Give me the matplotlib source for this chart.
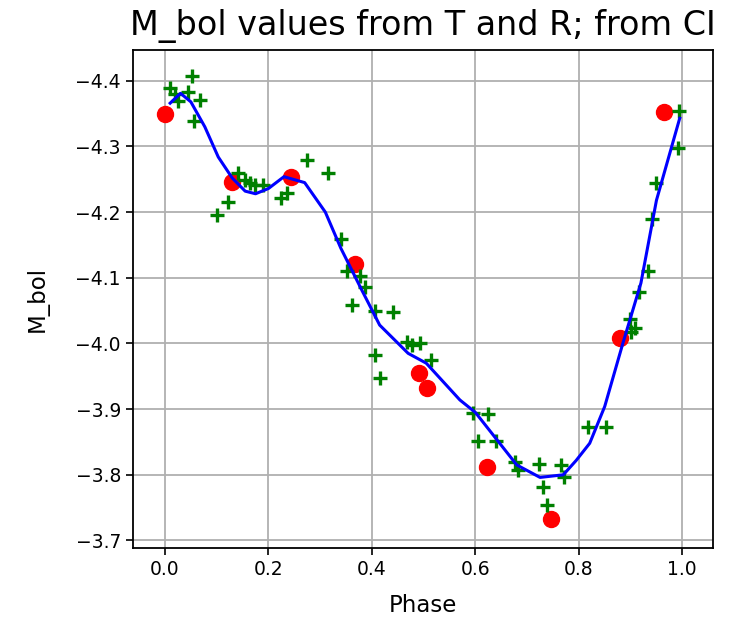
import matplotlib
matplotlib.use("Agg")
import matplotlib.pyplot as plt

# M_bol from T and R (red), from CI (green), smoothed curve (blue)
phase_tr = [0.0, 0.129, 0.243, 0.367, 0.491, 0.506, 0.622, 0.747, 0.879, 0.964]
mbol_tr = [-4.349, -4.246, -4.254, -4.121, -3.955, -3.932, -3.812, -3.732, -4.009, -4.353]

phase_ci = [0.010, 0.020, 0.025, 0.045, 0.052, 0.057, 0.068, 0.100, 0.122,
            0.142, 0.155, 0.164, 0.174, 0.190, 0.225, 0.235, 0.274, 0.316,
            0.341, 0.351, 0.361, 0.377, 0.386, 0.406, 0.406, 0.415, 0.441,
            0.467, 0.478, 0.492, 0.515, 0.596, 0.625, 0.605, 0.640, 0.676,
            0.683, 0.723, 0.730, 0.739, 0.765, 0.771, 0.818, 0.853, 0.899,
            0.901, 0.908, 0.917, 0.934, 0.942, 0.950, 0.991, 0.994]
mbol_ci = [-4.389, -4.380, -4.370, -4.383, -4.407, -4.339, -4.371, -4.196, -4.215,
           -4.259, -4.249, -4.244, -4.241, -4.241, -4.222, -4.229, -4.279, -4.259,
           -4.159, -4.111, -4.059, -4.103, -4.086, -4.050, -3.983, -3.947, -4.048,
           -4.003, -3.997, -4.000, -3.975, -3.894, -3.893, -3.851, -3.851, -3.820,
           -3.807, -3.817, -3.782, -3.754, -3.815, -3.796, -3.873, -3.873, -4.038,
           -4.018, -4.023, -4.079, -4.111, -4.189, -4.245, -4.297, -4.354]

phase_fit = [0.01, 0.03, 0.05, 0.077, 0.103, 0.13, 0.155, 0.175, 0.2, 0.23,
             0.27, 0.31, 0.34, 0.38, 0.415, 0.47, 0.505, 0.57, 0.6, 0.64,
             0.68, 0.725, 0.77, 0.795, 0.821, 0.85, 0.885, 0.92, 0.95, 0.995]
mbol_fit = [-4.366, -4.381, -4.368, -4.330, -4.284, -4.252, -4.232, -4.228, -4.236, -4.254,
            -4.245, -4.200, -4.145, -4.082, -4.028, -3.985, -3.970, -3.914, -3.895, -3.855,
            -3.815, -3.796, -3.800, -3.822, -3.848, -3.904, -4.000, -4.092, -4.218, -4.343]

fig = plt.figure(figsize=(7.38, 6.2), dpi=100)
ax = fig.add_axes([0.1798, 0.1156, 0.7868, 0.8038])

ax.plot(phase_tr, mbol_tr, 'o', color='red', markersize=11.5)
ax.plot(phase_ci, mbol_ci, '+', color='green', markersize=10, markeredgewidth=2.4)
ax.plot(phase_fit, mbol_fit, '-', color='blue', linewidth=2.2)

ax.set_xlim(-0.0624, 1.06)
ax.set_ylim(-3.688, -4.447)
ax.set_xticks([0.0, 0.2, 0.4, 0.6, 0.8, 1.0])
ax.set_yticks([-4.4, -4.3, -4.2, -4.1, -4.0, -3.9, -3.8, -3.7])
ax.grid(True, color='#b0b0b0', linewidth=1.3)
ax.set_axisbelow(True)
ax.tick_params(labelsize=13.5, length=5, width=1.2)
for s in ax.spines.values():
    s.set_linewidth(1.3)

ax.set_xlabel('Phase', fontsize=16.5, labelpad=11)
ax.set_ylabel('M_bol', fontsize=16.5, labelpad=19)
ax.set_title('M_bol values from T and R; from CI', fontsize=24, pad=11)

fig.savefig('out.png', dpi=100)
